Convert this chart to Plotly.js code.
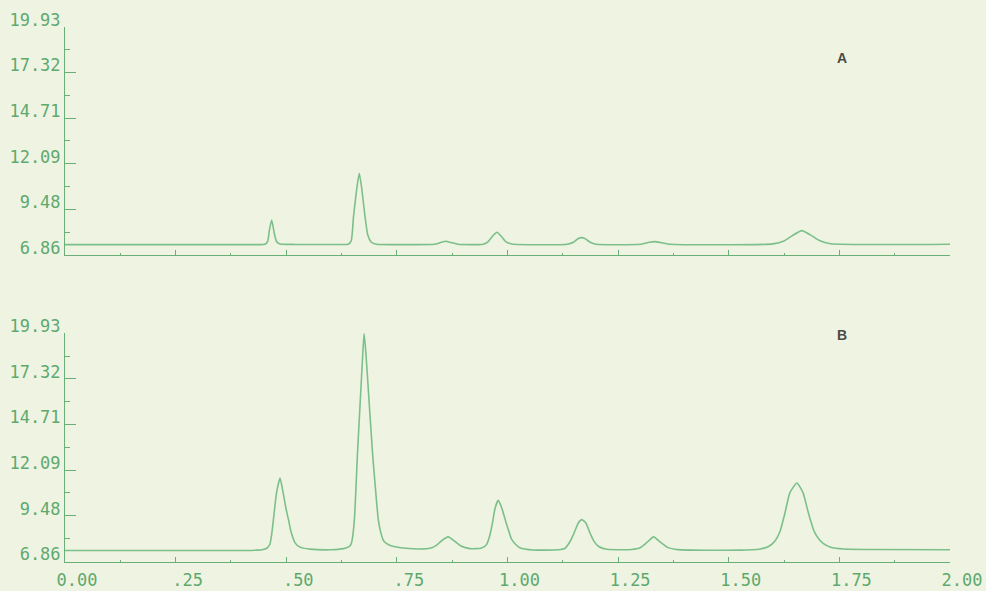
<!DOCTYPE html>
<html>
<head>
<meta charset="utf-8">
<script src="https://cdn.plot.ly/plotly-3.0.1.min.js"></script>
<style>
html,body{margin:0;padding:0;background:#eef4e1;}
#chart{width:986px;height:591px;}
</style>
</head>
<body>
<div id="chart"></div>
<script>
// Chromatogram A (top panel)
var xA = [0, 0.3, 0.44, 0.452, 0.458, 0.462, 0.467, 0.473, 0.478, 0.486, 0.52, 0.62, 0.640, 0.647, 0.652, 0.659, 0.665, 0.671, 0.678, 0.684, 0.692, 0.704, 0.75, 0.835, 0.850, 0.861, 0.872, 0.888, 0.945, 0.957, 0.966, 0.976, 0.986, 0.996, 1.010, 1.135, 1.150, 1.160, 1.168, 1.176, 1.187, 1.200, 1.300, 1.320, 1.333, 1.346, 1.368, 1.600, 1.625, 1.643, 1.665, 1.688, 1.705, 1.730, 2.0];
var yA = [7.47, 7.47, 7.47, 7.49, 7.65, 8.31, 8.88, 8.12, 7.65, 7.51, 7.48, 7.48, 7.49, 7.70, 9.07, 10.60, 11.55, 10.60, 9.07, 8.05, 7.62, 7.49, 7.47, 7.49, 7.60, 7.66, 7.59, 7.49, 7.49, 7.66, 7.95, 8.18, 7.95, 7.64, 7.50, 7.49, 7.62, 7.82, 7.87, 7.80, 7.60, 7.49, 7.49, 7.60, 7.64, 7.59, 7.49, 7.51, 7.68, 7.97, 8.27, 7.97, 7.70, 7.52, 7.49];

// Chromatogram B (bottom panel)
var xB = [0, 0.2, 0.40, 0.435, 0.448, 0.456, 0.463, 0.467, 0.471, 0.478, 0.486, 0.493, 0.499, 0.505, 0.511, 0.520, 0.530, 0.554, 0.600, 0.621, 0.635, 0.644, 0.648, 0.654, 0.661, 0.669, 0.673, 0.676, 0.680, 0.685, 0.695, 0.702, 0.708, 0.712, 0.716, 0.720, 0.727, 0.735, 0.749, 0.770, 0.802, 0.825, 0.840, 0.851, 0.866, 0.881, 0.895, 0.915, 0.940, 0.952, 0.960, 0.966, 0.972, 0.979, 0.987, 0.997, 1.003, 1.009, 1.018, 1.028, 1.058, 1.115, 1.130, 1.140, 1.149, 1.160, 1.168, 1.177, 1.188, 1.196, 1.206, 1.224, 1.280, 1.300, 1.315, 1.330, 1.345, 1.362, 1.385, 1.525, 1.571, 1.590, 1.605, 1.616, 1.627, 1.638, 1.654, 1.668, 1.680, 1.693, 1.705, 1.714, 1.730, 1.760, 1.827, 2.0];
var yB = [7.49, 7.49, 7.49, 7.51, 7.55, 7.62, 7.85, 8.40, 9.26, 10.79, 11.64, 10.79, 9.95, 9.26, 8.55, 7.93, 7.70, 7.57, 7.53, 7.57, 7.64, 7.75, 7.98, 9.26, 13.07, 16.88, 18.79, 19.93, 18.79, 16.88, 13.07, 10.90, 9.26, 8.70, 8.31, 8.05, 7.88, 7.78, 7.69, 7.62, 7.58, 7.62, 7.80, 8.05, 8.27, 8.02, 7.75, 7.60, 7.62, 7.80, 8.35, 9.07, 9.93, 10.36, 9.93, 9.07, 8.60, 8.15, 7.85, 7.65, 7.52, 7.53, 7.62, 7.95, 8.40, 9.07, 9.26, 9.07, 8.40, 8.00, 7.72, 7.56, 7.55, 7.65, 7.95, 8.27, 7.98, 7.67, 7.54, 7.51, 7.58, 7.72, 8.05, 8.59, 9.64, 10.79, 11.36, 10.79, 9.64, 8.59, 8.10, 7.88, 7.68, 7.58, 7.55, 7.53];

var yTickVals = [6.86, 9.48, 12.09, 14.71, 17.32, 19.93];
var yTickText = ['6.86', '9.48', '12.09', '14.71', '17.32', '19.93'];
var yMinorVals = [8.17, 10.785, 13.40, 16.015, 18.625];
var xTickVals = [0, 0.25, 0.5, 0.75, 1.0, 1.25, 1.5, 1.75, 2.0];
var xTickText = ['0.00', '.25', '.50', '.75', '1.00', '1.25', '1.50', '1.75', '2.00'];
var panelLabels = ['A', 'B'];

var lineColor = '#7cbf8b';
var axisColor = '#6aae78';
var textColor = '#5fa96e';
var tickFont = {family: 'DejaVu Sans Mono', size: 17, color: textColor};

var traces = [
  {x: xA, y: yA, xaxis: 'x', yaxis: 'y', type: 'scatter', mode: 'lines',
   line: {color: lineColor, width: 1.6, shape: 'spline', smoothing: 0.5}, hoverinfo: 'skip'},
  {x: xB, y: yB, xaxis: 'x2', yaxis: 'y2', type: 'scatter', mode: 'lines',
   line: {color: lineColor, width: 1.6, shape: 'spline', smoothing: 0.5}, hoverinfo: 'skip'}
];

function xAxis(showLabels, anchor) {
  return {
    anchor: anchor, range: [0, 2], domain: [0, 1],
    showgrid: false, zeroline: false, showline: true, linecolor: axisColor, linewidth: 1,
    tickmode: 'array', tickvals: xTickVals, ticktext: xTickText,
    ticks: 'inside', ticklen: 5, tickcolor: axisColor, tickwidth: 1,
    minor: {dtick: 0.125, ticks: 'inside', ticklen: 2, tickcolor: axisColor, tickwidth: 1, showgrid: false},
    showticklabels: showLabels, tickfont: tickFont,
    ticklabelshift: 12, ticklabelstandoff: 3
  };
}
function yAxis(domain, anchor) {
  return {
    anchor: anchor, domain: domain, range: [6.86, 19.93],
    showgrid: false, zeroline: false, showline: true, linecolor: axisColor, linewidth: 1,
    tickmode: 'array', tickvals: yTickVals, ticktext: yTickText,
    ticks: 'inside', ticklen: 11, tickcolor: axisColor, tickwidth: 1,
    minor: {tickvals: yMinorVals, ticks: 'inside', ticklen: 5, tickcolor: axisColor, tickwidth: 1, showgrid: false},
    tickfont: tickFont, ticklabelshift: -7, ticklabelstandoff: 0
  };
}

var layout = {
  width: 986, height: 591,
  margin: {l: 65, r: 36, t: 20, b: 20},
  paper_bgcolor: '#eef4e1', plot_bgcolor: 'rgba(0,0,0,0)',
  showlegend: false,
  xaxis: xAxis(false, 'y'),
  yaxis: yAxis([0.573, 0.9878], 'x'),
  xaxis2: xAxis(true, 'y2'),
  yaxis2: yAxis([0.0172, 0.4314], 'x2'),
  annotations: [
    {text: panelLabels[0], xref: 'paper', yref: 'paper', x: 0.878, y: 0.931, showarrow: false,
     xanchor: 'center', yanchor: 'middle',
     font: {family: 'Liberation Sans', size: 14, color: '#4a4a48', weight: 'bold'}},
    {text: panelLabels[1], xref: 'paper', yref: 'paper', x: 0.878, y: 0.428, showarrow: false,
     xanchor: 'center', yanchor: 'middle',
     font: {family: 'Liberation Sans', size: 14, color: '#4a4a48', weight: 'bold'}}
  ]
};

Plotly.newPlot('chart', traces, layout, {displayModeBar: false, staticPlot: true});
</script>
</body>
</html>
